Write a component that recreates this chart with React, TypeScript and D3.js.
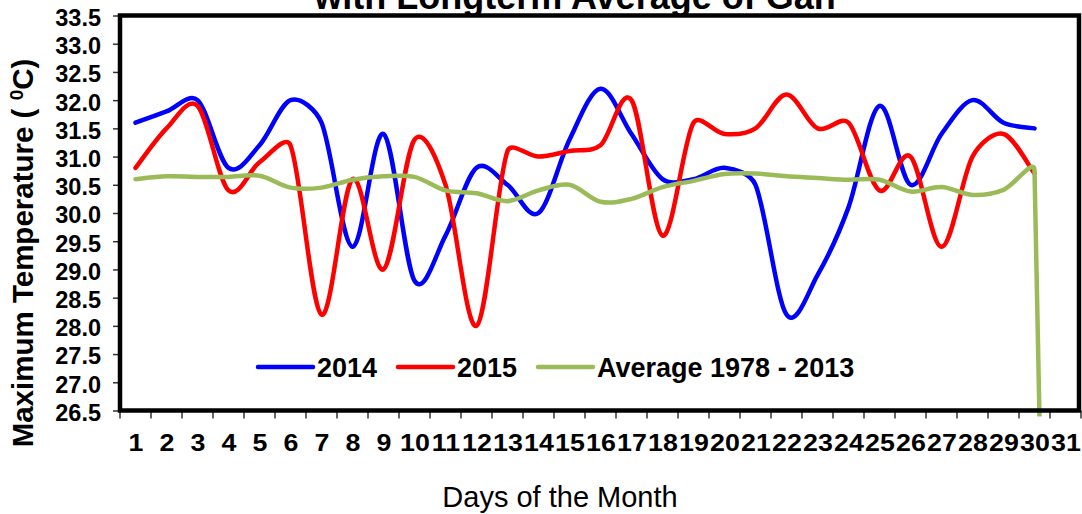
import React, { useRef, useEffect } from "react";
import * as d3 from "d3";

// days of the month (categories)
const days = [1, 2, 3, 4, 5, 6, 7, 8, 9, 10, 11, 12, 13, 14, 15, 16, 17, 18, 19, 20, 21, 22, 23, 24, 25, 26, 27, 28, 29, 30, 31];

// maximum temperature, 2014
const temp2014 = [31.6, 31.8, 32.0, 30.8, 31.2, 32.0, 31.6, 29.4, 31.4, 28.8, 29.6, 30.8, 30.5, 30.0, 31.3, 32.2, 31.4, 30.6, 30.6, 30.8, 30.5, 28.2, 28.9, 30.1, 31.9, 30.5, 31.4, 32.0, 31.6, 31.5];

// maximum temperature, 2015
const temp2015 = [30.8, 31.5, 31.9, 30.4, 30.9, 31.2, 28.2, 30.6, 29.0, 31.3, 30.5, 28.0, 31.1, 31.0, 31.1, 31.2, 32.0, 29.6, 31.6, 31.4, 31.5, 32.1, 31.5, 31.6, 30.4, 31.0, 29.4, 31.0, 31.4, 30.7];

// longterm average 1978 - 2013 (day 31 is empty -> 0 in the sheet)
const average = [30.6, 30.65, 30.64, 30.64, 30.66, 30.45, 30.45, 30.59, 30.65, 30.64, 30.4, 30.35, 30.21, 30.4, 30.5, 30.2, 30.25, 30.46, 30.57, 30.69, 30.7, 30.65, 30.62, 30.59, 30.59, 30.38, 30.46, 30.32, 30.41, 30.76, 0];

const yTicks = [26.5, 27.0, 27.5, 28.0, 28.5, 29.0, 29.5, 30.0, 30.5, 31.0, 31.5, 32.0, 32.5, 33.0, 33.5];

const seriesNames = ["2014", "2015", "Average 1978 - 2013"];
const seriesColors = ["#0000ff", "#ff0000", "#9bbb59"];

const FONT = "'Liberation Sans', Arial, Helvetica, sans-serif";

// spreadsheet-style smoothed line: catmull-rom handles, clamped by the segment length
const smoothPath = (pts: [number, number][]) => {
  const p = d3.path();
  const n = pts.length;
  const tan = pts.map((pt, i) => {
    const a = pts[Math.max(0, i - 1)];
    const b = pts[Math.min(n - 1, i + 1)];
    return [(b[0] - a[0]) / 6, (b[1] - a[1]) / 6];
  });
  const handle = (t: number[], seg: number) => {
    const len = Math.hypot(t[0], t[1]) || 1;
    const s = Math.min(1, (seg * 0.35) / len);
    return [t[0] * s, t[1] * s];
  };
  p.moveTo(pts[0][0], pts[0][1]);
  for (let i = 0; i < n - 1; i++) {
    const seg = Math.hypot(pts[i + 1][0] - pts[i][0], pts[i + 1][1] - pts[i][1]);
    const h1 = handle(tan[i], seg);
    const h2 = handle(tan[i + 1], seg);
    p.bezierCurveTo(
      pts[i][0] + h1[0],
      pts[i][1] + h1[1],
      pts[i + 1][0] - h2[0],
      pts[i + 1][1] - h2[1],
      pts[i + 1][0],
      pts[i + 1][1]
    );
  }
  return p.toString();
};

const App = () => {
  const svgRef = useRef<SVGSVGElement>(null);

  useEffect(() => {
    const left = 120,
      right = 1079,
      top = 15.5,
      bottom = 410.5;

    const svg = d3.select(svgRef.current);
    svg.selectAll("*").remove();

    // scales
    const x = d3.scaleBand<number>().domain(days).range([left, 1081]).padding(0);
    const y = d3.scaleLinear().domain([26.5, 33.5]).range([bottom, top]);
    const cx = (i: number) => (x(days[i]) as number) + x.bandwidth() / 2;

    // clip for the plot area
    svg
      .append("defs")
      .append("clipPath")
      .attr("id", "plotClip")
      .append("rect")
      .attr("x", left)
      .attr("y", top)
      .attr("width", right - left)
      .attr("height", bottom - top + 6);

    // title (second line, top is cut off)
    svg
      .append("text")
      .attr("x", 575)
      .attr("y", 8.5)
      .attr("text-anchor", "middle")
      .style("font-family", FONT)
      .style("font-weight", "bold")
      .style("font-size", "36px")
      .text("with Longterm Average of Gan");

    // y axis ticks + labels
    const yAxis = svg
      .append("g")
      .attr("transform", `translate(${left},0)`)
      .call(
        d3
          .axisLeft(y)
          .tickValues(yTicks)
          .tickSize(7)
          .tickPadding(12)
          .tickFormat(d3.format(".1f"))
      );
    yAxis.select(".domain").remove();
    yAxis.selectAll("line").attr("stroke", "#333").attr("stroke-width", 1.5);
    yAxis
      .selectAll("text")
      .attr("dy", "0.42em")
      .attr("fill", "#000")
      .style("font-family", FONT)
      .style("font-weight", "bold")
      .style("font-size", "23.5px");

    // x ticks between categories
    const xEdges = days.map((d) => x(d) as number).concat([x.range()[1]]);
    svg
      .append("g")
      .selectAll("line")
      .data(xEdges)
      .enter()
      .append("line")
      .attr("x1", (d) => d)
      .attr("x2", (d) => d)
      .attr("y1", bottom)
      .attr("y2", bottom + 8)
      .attr("stroke", "#333")
      .attr("stroke-width", 1.5);

    // x labels (slightly wide, like the source)
    svg
      .append("g")
      .selectAll("text")
      .data(days)
      .enter()
      .append("text")
      .attr("transform", (d, i) => `translate(${cx(i) + 0.5},451) scale(1.14,1)`)
      .attr("text-anchor", "middle")
      .style("font-family", FONT)
      .style("font-weight", "bold")
      .style("font-size", "23.5px")
      .text((d) => d);

    // series lines
    const plot = svg.append("g").attr("clip-path", "url(#plotClip)");
    [temp2014, temp2015, average].forEach((s, k) => {
      const pts = s.map((v, i) => [cx(i), y(v)] as [number, number]);
      plot
        .append("path")
        .attr("d", smoothPath(pts))
        .attr("fill", "none")
        .attr("stroke", seriesColors[k])
        .attr("stroke-width", 4.5)
        .attr("stroke-linejoin", "round")
        .attr("stroke-linecap", "round");
    });

    // plot border
    svg
      .append("rect")
      .attr("x", left)
      .attr("y", top)
      .attr("width", right - left)
      .attr("height", bottom - top)
      .attr("fill", "none")
      .attr("stroke", "#000")
      .attr("stroke-width", 4.5);

    // legend
    const legendX = [258, 398, 538];
    const legend = svg.append("g");
    seriesNames.forEach((name, k) => {
      legend
        .append("line")
        .attr("x1", legendX[k])
        .attr("x2", legendX[k] + 55)
        .attr("y1", 367)
        .attr("y2", 367)
        .attr("stroke", seriesColors[k])
        .attr("stroke-width", 4.5)
        .attr("stroke-linecap", "round");
      legend
        .append("text")
        .attr("x", legendX[k] + 59)
        .attr("y", 377)
        .style("font-family", FONT)
        .style("font-weight", "bold")
        .style("font-size", "27px")
        .text(name);
    });

    // y axis title
    const yTitle = svg
      .append("text")
      .attr("transform", "translate(33,253) rotate(-90)")
      .attr("text-anchor", "middle")
      .style("font-family", FONT)
      .style("font-weight", "bold")
      .style("font-size", "29.5px");
    yTitle.append("tspan").text("Maximum Temperature ( ");
    yTitle.append("tspan").attr("baseline-shift", "super").style("font-size", "19px").text("0");
    yTitle.append("tspan").text("C)");

    // x axis title
    svg
      .append("text")
      .attr("x", 560)
      .attr("y", 507)
      .attr("text-anchor", "middle")
      .style("font-family", FONT)
      .style("font-size", "29px")
      .text("Days of the Month");
  }, []);

  return (
    <div style={{ position: "absolute", left: 0, top: 0 }}>
      <svg ref={svgRef} width={1082} height={514} style={{ display: "block", background: "#fff" }}></svg>
    </div>
  );
};

export default App;
